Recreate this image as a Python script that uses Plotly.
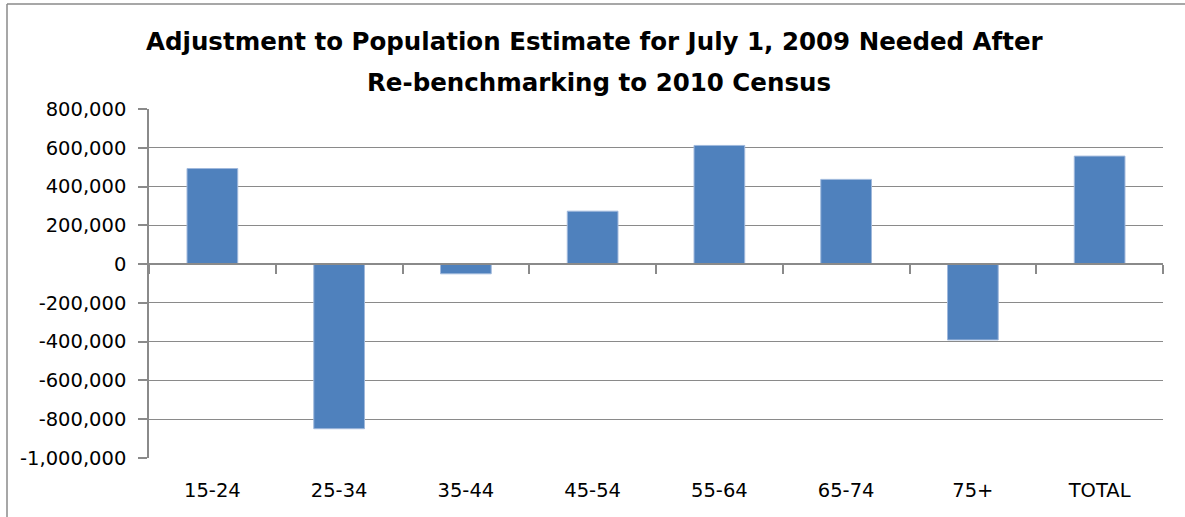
import plotly.graph_objects as go

categories = ["15-24", "25-34", "35-44", "45-54", "55-64", "65-74", "75+", "TOTAL"]
adjustment = [493000, -849000, -50000, 273000, 612000, 437000, -391000, 557000]
y_tick_values = [-1000000, -800000, -600000, -400000, -200000, 0, 200000, 400000, 600000, 800000]
y_tick_labels = ["-1,000,000", "-800,000", "-600,000", "-400,000", "-200,000", "0",
                 "200,000", "400,000", "600,000", "800,000"]
title_lines = ["Adjustment to Population Estimate for July 1, 2009 Needed After",
               "Re-benchmarking to 2010 Census"]

W, H = 1185, 517
L, R, T, B = 149, 22, 109, 59
PW, PH = W - L - R, H - T - B
GRAY = "#8a8a8a"
TICK_FONT = dict(family="DejaVu Sans", size=19.5, color="#000000")
TITLE_FONT = dict(family="DejaVu Sans", size=24.5, color="#000000")


def px_x(x):
    return (x - L) / PW


def px_y(y):
    return (H - B - y) / PH


fig = go.Figure()
fig.add_trace(go.Bar(
    x=categories, y=adjustment,
    marker=dict(color="#4F81BD", line=dict(color="#9fb8dc", width=1)),
    showlegend=False, hoverinfo="x+y",
))
# helper trace to carry the zero-line category axis with its boundary ticks
fig.add_trace(go.Scatter(
    x=categories, y=adjustment, xaxis="x2", mode="markers",
    marker=dict(opacity=0), hoverinfo="skip", showlegend=False,
))

y_min, y_max = y_tick_values[0], y_tick_values[-1]

fig.update_layout(
    width=W, height=H,
    margin=dict(l=L, r=R, t=T, b=B, pad=0),
    paper_bgcolor="white", plot_bgcolor="white",
    bargap=0.6,
    xaxis=dict(
        type="category", range=[-0.5, len(categories) - 0.5],
        showline=False, showgrid=False, zeroline=False,
        ticks="outside", ticklen=15, tickcolor="rgba(0,0,0,0)",
        tickfont=TICK_FONT,
    ),
    xaxis2=dict(
        type="category", overlaying="x", anchor="free",
        position=(0 - y_min) / (y_max - y_min),
        range=[-0.5, len(categories) - 0.5],
        showline=True, linecolor=GRAY, linewidth=1.5,
        ticks="outside", ticklen=9, tickcolor=GRAY, tickwidth=1.5,
        tickson="boundaries", showticklabels=False, showgrid=False, zeroline=False,
    ),
    yaxis=dict(
        range=[y_min, y_max], tickmode="array",
        tickvals=y_tick_values, ticktext=y_tick_labels,
        showgrid=True, gridcolor=GRAY, gridwidth=1.2,
        showline=True, linecolor=GRAY, linewidth=1.5,
        ticks="outside", ticklen=9, tickcolor=GRAY, tickwidth=1.5,
        ticklabelstandoff=8,
        zeroline=False, tickfont=TICK_FONT,
    ),
    annotations=[
        dict(text="<b>%s</b>" % title_lines[0], xref="paper", yref="paper",
             x=px_x(594.5), y=px_y(42), xanchor="center", yanchor="middle",
             showarrow=False, font=TITLE_FONT),
        dict(text="<b>%s</b>" % title_lines[1], xref="paper", yref="paper",
             x=px_x(599), y=px_y(83), xanchor="center", yanchor="middle",
             showarrow=False, font=TITLE_FONT),
    ],
    shapes=[
        dict(type="line", xref="paper", yref="paper",
             x0=px_x(7), x1=px_x(7), y0=px_y(4), y1=px_y(H + 5),
             line=dict(color=GRAY, width=1.5), layer="below"),
        dict(type="line", xref="paper", yref="paper",
             x0=px_x(7), x1=px_x(W + 5), y0=px_y(4), y1=px_y(4),
             line=dict(color=GRAY, width=1.5), layer="below"),
    ],
)

fig.write_html("out.html", config={"displayModeBar": False},
               post_script="document.body.style.margin='0px';")
